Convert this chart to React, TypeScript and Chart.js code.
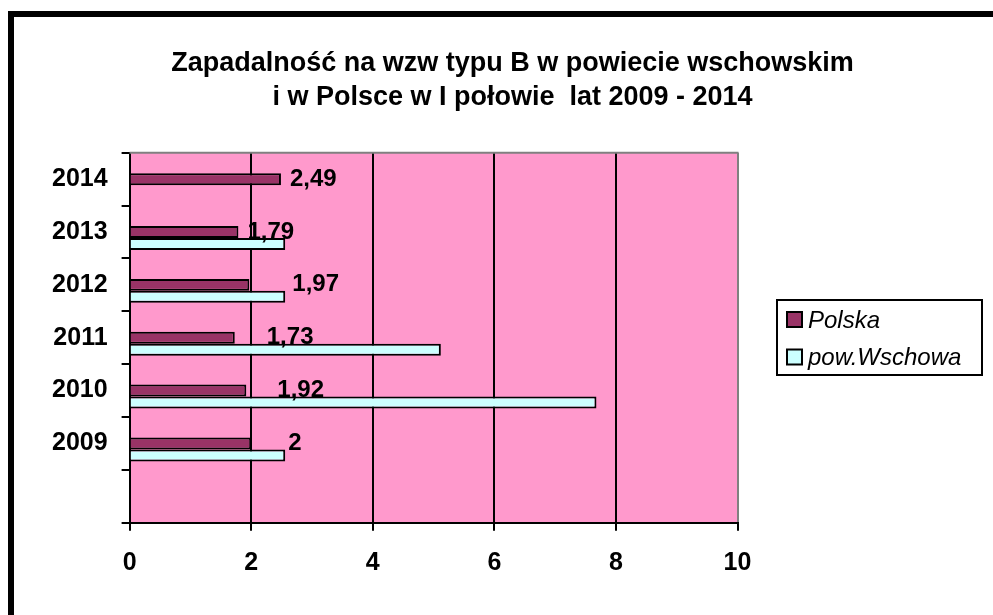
import React, { useEffect, useRef } from 'react';
import { Chart, registerables } from 'chart.js';

Chart.register(...registerables);

// ---- data ----
const categories = ['2014', '2013', '2012', '2011', '2010', '2009', ''];
const polskaValues = [2.49, 1.79, 1.97, 1.73, 1.92, 2, null];
const wschowaValues = [null, 2.56, 2.56, 5.12, 7.68, 2.56, null];
const spacerValues = [null, null, null, null, null, null, null];
const seriesNames = ['Polska', 'pow.Wschowa'];
const titleLines = [
  'Zapadalność na wzw typu B w powiecie wschowskim',
  'i w Polsce w I połowie  lat 2009 - 2014',
];
const xMin = 0;
const xMax = 10;
const xStep = 2;

// ---- styles ----
const FONT = "'Liberation Sans', Arial, Helvetica, sans-serif";
const PLOT_BG = '#FF99CC';
const POLSKA_COLOR = '#993366';
const WSCHOWA_COLOR = '#CCFFFF';
const labelGaps = [9, 9, 43, 32, 31, 37]; // px nudges of the value labels (as placed in the original)

const plotBgPlugin = {
  id: 'plotBg',
  beforeDraw(chart: any) {
    const { ctx, chartArea: a } = chart;
    ctx.save();
    ctx.fillStyle = PLOT_BG;
    ctx.fillRect(a.left, a.top, a.right - a.left, a.bottom - a.top);
    ctx.restore();
  },
  beforeDatasetsDraw(chart: any) {
    const { ctx, chartArea: a } = chart;
    ctx.save();
    ctx.strokeStyle = '#808080';
    ctx.lineWidth = 2;
    ctx.beginPath();
    ctx.moveTo(a.left, a.top);
    ctx.lineTo(a.right + 1, a.top);
    ctx.stroke();
    ctx.restore();
  },
};

const valueLabelPlugin = {
  id: 'valueLabels',
  afterDatasetsDraw(chart: any) {
    const { ctx } = chart;
    const meta = chart.getDatasetMeta(1);
    const yScale = chart.scales.y;
    ctx.save();
    ctx.font = `bold 24px ${FONT}`;
    ctx.fillStyle = '#000';
    ctx.textAlign = 'left';
    ctx.textBaseline = 'middle';
    meta.data.forEach((el: any, i: number) => {
      const v = chart.data.datasets[1].data[i];
      if (v === null || v === undefined) return;
      const txt = String(v).replace('.', ',');
      const x = el.x + (labelGaps[i] ?? 9);
      const y = yScale.getPixelForValue(i);
      ctx.fillText(txt, x, y);
    });
    ctx.restore();
  },
};

const boxLegendPlugin = {
  id: 'boxLegend',
  afterDraw(chart: any) {
    const { ctx } = chart;
    const items = chart.data.datasets.filter((d: any) => d.label);
    const left = 777;
    const top = 300;
    const w = 205;
    const h = 75;
    ctx.save();
    ctx.fillStyle = '#fff';
    ctx.fillRect(left, top, w, h);
    ctx.strokeStyle = '#000';
    ctx.lineWidth = 2;
    ctx.strokeRect(left, top, w, h);
    ctx.font = `italic 24px ${FONT}`;
    ctx.textAlign = 'left';
    ctx.textBaseline = 'middle';
    items.forEach((d: any, i: number) => {
      const cy = top + 20 + i * 37.5;
      ctx.fillStyle = d.backgroundColor;
      ctx.fillRect(left + 10, cy - 8, 15, 15);
      ctx.strokeStyle = '#000';
      ctx.lineWidth = 2;
      ctx.strokeRect(left + 10, cy - 8, 15, 15);
      ctx.fillStyle = '#000';
      ctx.fillText(d.label, left + 31, cy + 1);
    });
    ctx.restore();
  },
};

export default function App() {
  const canvasRef = useRef<HTMLCanvasElement | null>(null);

  useEffect(() => {
    if (!canvasRef.current) return;
    const chart = new Chart(canvasRef.current, {
      type: 'bar',
      data: {
        labels: categories,
        datasets: [
          {
            label: '',
            data: spacerValues,
            backgroundColor: 'rgba(0,0,0,0)',
            borderWidth: 0,
          },
          {
            label: seriesNames[0],
            data: polskaValues,
            backgroundColor: POLSKA_COLOR,
            borderColor: '#000',
            borderWidth: 2,
          },
          {
            label: seriesNames[1],
            data: wschowaValues,
            backgroundColor: WSCHOWA_COLOR,
            borderColor: '#000',
            borderWidth: 2,
          },
        ],
      } as any,
      options: {
        indexAxis: 'y',
        responsive: false,
        animation: false,
        devicePixelRatio: 1,
        datasets: {
          bar: { categoryPercentage: 0.68, barPercentage: 1.0 },
        },
        layout: { padding: { left: 32, right: 0, top: 0, bottom: 0 } },
        plugins: {
          legend: { display: false },
          tooltip: { enabled: false },
          title: {
            display: true,
            text: titleLines,
            color: '#000',
            font: { family: FONT, size: 27, weight: 'bold', lineHeight: 1.26 },
            padding: { top: 47, bottom: 37.7 },
          },
        },
        scales: {
          y: {
            type: 'category',
            position: 'left',
            offset: true,
            grid: {
              offset: true,
              drawOnChartArea: false,
              color: '#000',
              tickColor: '#000',
              lineWidth: 2,
              tickLength: 8,
            },
            border: { display: true, color: '#000', width: 2 },
            ticks: {
              color: '#000',
              padding: 14,
              font: { family: FONT, size: 25, weight: 'bold' },
            },
            afterFit: (s: any) => {
              s.width = 97.6;
            },
          },
          x: {
            type: 'linear',
            position: 'bottom',
            min: xMin,
            max: xMax,
            grid: {
              color: (c: any) => (c.tick && c.tick.value === xMax ? '#808080' : '#000'),
              tickColor: '#000',
              lineWidth: 2,
              tickLength: 8,
            },
            border: { display: true, color: '#000', width: 2 },
            ticks: {
              stepSize: xStep,
              color: '#000',
              padding: 17,
              font: { family: FONT, size: 25, weight: 'bold' },
            },
            afterFit: (s: any) => {
              s.height = 92.3;
            },
          },
          pad: {
            type: 'linear',
            position: 'right',
            display: true,
            grid: { display: false },
            ticks: { display: false },
            border: { display: false },
            afterFit: (s: any) => {
              s.width = 255.5;
            },
          },
        },
      } as any,
      plugins: [plotBgPlugin, valueLabelPlugin, boxLegendPlugin],
    });
    return () => chart.destroy();
  }, []);

  return (
    <div style={{ position: 'fixed', left: 0, top: 0, width: 993, height: 615, overflow: 'hidden', background: '#fff' }}>
      <div
        style={{
          position: 'absolute',
          left: 8,
          top: 11,
          width: 1200,
          height: 1200,
          borderLeft: '6px solid #000',
          borderTop: '6px solid #000',
        }}
      />
      <canvas
        ref={canvasRef}
        width={993}
        height={615}
        style={{ position: 'absolute', left: 0, top: 0, width: 993, height: 615 }}
      />
    </div>
  );
}
